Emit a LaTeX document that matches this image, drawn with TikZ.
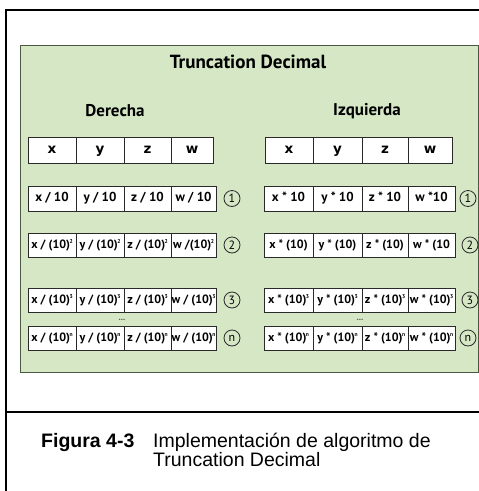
\documentclass[tikz,border=0pt]{standalone}
\usepackage{fontspec}
\setmainfont{Liberation Sans}
\newfontfamily\ptsans{PT Sans}
\newfontfamily\dvsans{DejaVu Sans}
\definecolor{panelgreen}{HTML}{D5E7C5}
\definecolor{panelborder}{HTML}{4A5A40}
\definecolor{cellborder}{HTML}{2A2A2A}
\newcommand\mkcell[6]{\node[#1, minimum width=#4pt, minimum height=#5pt] (#2) at (#3) {#6};}
\newcommand\sq[1]{\rlap{\kern-0.5pt\textsuperscript{\scalebox{0.7}{#1}}}\kern2.5pt}
\begin{document}
\begin{tikzpicture}[x=1pt,y=-1pt,
  hcell/.style={draw=cellborder, fill=white, line width=0.8pt, inner sep=0pt, text height=7pt, text depth=0pt, font=\dvsans\bfseries\fontsize{13.5}{14}\selectfont},
  dcell/.style={draw=cellborder, fill=white, line width=0.8pt, inner sep=0pt, text height=9pt, text depth=2.5pt, font=\ptsans\bfseries\fontsize{13}{14}\selectfont},
  pcell/.style={dcell, font=\ptsans\bfseries\fontsize{12}{13}\selectfont},
  circ/.style={circle, draw=cellborder, line width=0.8pt, minimum size=16pt, inner sep=0pt, font=\ptsans\fontsize{12}{12}\selectfont},
  dots/.style={inner sep=0pt, text=black!65, font=\ptsans\bfseries\fontsize{9}{9}\selectfont},
  heading/.style={inner sep=0pt, font=\ptsans\bfseries\fontsize{17}{19}\selectfont},
  captext/.style={inner sep=0pt, anchor=base west, font=\fontsize{19.5}{21}\selectfont}]
\useasboundingbox (0,0) rectangle (479,491);
\fill[white] (0,0) rectangle (479,491);
\draw[line width=2pt] (479,10) -- (6,10) -- (6,491);
\draw[line width=2pt] (6,412) -- (479,412);
\draw[fill=panelgreen, draw=panelborder, line width=1pt] (20,45) rectangle (478,372);

\node[heading, font=\ptsans\bfseries\fontsize{19}{21}\selectfont] (title) at (248,62) {Truncation Decimal};
\node[heading] (der) at (115,111) {Derecha};
\node[heading] (izq) at (367,111) {Izquierda};

% left header
\mkcell{hcell}{LHx}{52,150}{48}{26}{x}
\mkcell{hcell}{LHy}{100,150}{48}{26}{y}
\mkcell{hcell}{LHz}{147.5,150}{47}{26}{z}
\mkcell{hcell}{LHw}{192,150}{42}{26}{w}
% right header
\mkcell{hcell}{RHx}{289,150}{48}{26}{x}
\mkcell{hcell}{RHy}{337.5,150}{49}{26}{y}
\mkcell{hcell}{RHz}{385,150}{46}{26}{z}
\mkcell{hcell}{RHw}{430,150}{44}{26}{w}

% left row 1
\mkcell{dcell}{L1x}{52,198.5}{48}{25}{x / 10}
\mkcell{dcell}{L1y}{100,198.5}{48}{25}{y / 10}
\mkcell{dcell}{L1z}{147.5,198.5}{47}{25}{z / 10}
\mkcell{dcell}{L1w}{193.5,198.5}{45}{25}{w / 10}
% left row 2
\mkcell{pcell}{L2x}{52,245}{48}{24}{x / (10)\sq{2}}
\mkcell{pcell}{L2y}{100,245}{48}{24}{y / (10)\sq{2}}
\mkcell{pcell}{L2z}{147.5,245}{47}{24}{z / (10)\sq{2}}
\mkcell{pcell}{L2w}{193.5,245}{45}{24}{w /(10)\sq{2}}
% left row 3
\mkcell{pcell}{L3x}{52,300}{48}{24}{x / (10)\sq{3}}
\mkcell{pcell}{L3y}{100,300}{48}{24}{y / (10)\sq{3}}
\mkcell{pcell}{L3z}{147.5,300}{47}{24}{z / (10)\sq{3}}
\mkcell{pcell}{L3w}{193.5,300}{45}{24}{w / (10)\sq{3}}
% left row n
\mkcell{pcell}{LNx}{52,338}{48}{24}{x / (10)\sq{n}}
\mkcell{pcell}{LNy}{100,338}{48}{24}{y / (10)\sq{n}}
\mkcell{pcell}{LNz}{147.5,338}{47}{24}{z / (10)\sq{n}}
\mkcell{pcell}{LNw}{193.5,338}{45}{24}{w / (10)\sq{n}}

% right row 1
\mkcell{dcell}{R1x}{288.5,198.5}{49}{25}{x * 10}
\mkcell{dcell}{R1y}{337.5,198.5}{49}{25}{y * 10}
\mkcell{dcell}{R1z}{385,198.5}{46}{25}{z * 10}
\mkcell{dcell}{R1w}{431.5,198.5}{47}{25}{w *10}
% right row 2
\mkcell{pcell}{R2x}{288.5,245}{49}{24}{x * (10)}
\mkcell{pcell}{R2y}{337.5,245}{49}{24}{y * (10)}
\mkcell{pcell}{R2z}{385,245}{46}{24}{z * (10)}
\mkcell{pcell}{R2w}{431.5,245}{47}{24}{w * (10}
% right row 3
\mkcell{pcell}{R3x}{288.5,300}{49}{24}{x * (10)\sq{3}}
\mkcell{pcell}{R3y}{337.5,300}{49}{24}{y * (10)\sq{3}}
\mkcell{pcell}{R3z}{385,300}{46}{24}{z * (10)\sq{3}}
\mkcell{pcell}{R3w}{431.5,300}{47}{24}{w * (10)\sq{3}}
% right row n
\mkcell{pcell}{RNx}{288.5,338}{49}{24}{x * (10)\sq{n}}
\mkcell{pcell}{RNy}{337.5,338}{49}{24}{y * (10)\sq{n}}
\mkcell{pcell}{RNz}{385,338}{46}{24}{z * (10)\sq{n}}
\mkcell{pcell}{RNw}{431.5,338}{47}{24}{w * (10)\sq{n}}

% circled step numbers
\node[circ] (cL1) at (232,198.5) {1};
\node[circ] (cL2) at (232,245) {2};
\node[circ] (cL3) at (232,300) {3};
\node[circ] (cLN) at (232,338) {n};
\node[circ] (cR1) at (468,198.5) {1};
\node[circ] (cR2) at (470,245) {2};
\node[circ] (cR3) at (470,300) {3};
\node[circ] (cRN) at (468,338) {n};

\node[dots] (dL) at (122,320) {...};
\node[dots] (dR) at (360,320) {...};

% caption
\node[captext, font=\bfseries\fontsize{19.5}{21}\selectfont] (fig) at (41,447) {Figura 4-3};
\node[captext] (cap1) at (153,447) {Implementación de algoritmo de};
\node[captext] (cap2) at (153,466) {Truncation Decimal};
\end{tikzpicture}
\end{document}
